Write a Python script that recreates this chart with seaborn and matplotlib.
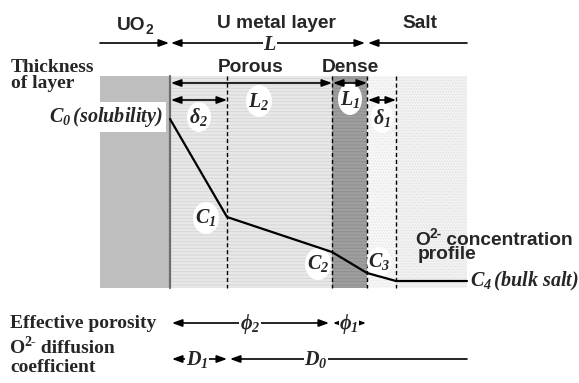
import matplotlib
matplotlib.use("Agg")
import matplotlib.pyplot as plt
from matplotlib.patches import Rectangle, Ellipse
import seaborn as sns
import pandas as pd

sns.set_theme(style="white")
plt.rcParams['font.family'] = ['Liberation Sans', 'DejaVu Sans']
plt.rcParams['mathtext.fontset'] = 'custom'
plt.rcParams['mathtext.it'] = 'Liberation Serif:bold:italic'
plt.rcParams['mathtext.rm'] = 'Liberation Serif:bold:italic'
plt.rcParams['mathtext.bf'] = 'Liberation Serif:bold'
plt.rcParams['hatch.linewidth'] = 0.6

# ---- data (pixel-space schematic) ----
layer_names = ['UO', 'U metal layer', 'Salt']
sublayer_names = ['Porous', 'Dense']
# x boundaries: UO2 start, metal/UO2 interface, delta2 edge, dense start, salt interface, delta1 edge, salt end
x_uo2, x_if, x_d2, x_dense, x_salt, x_d1, x_end = 100, 170, 227, 332, 367, 396, 467
profile_x = [170, 227, 332, 367, 396, 467]
profile_c = [119, 217, 252, 273, 281, 281]
conc_labels = ['$C_{\\mathit{1}}$', '$C_{\\mathit{2}}$', '$C_{\\mathit{3}}$']

fig = plt.figure(figsize=(5.79, 3.83), dpi=100)
ax = fig.add_axes([0, 0, 1, 1])

top, bot = 76, 288
# regions
ax.add_patch(Rectangle((x_uo2, top), x_if - x_uo2, bot - top, fc='#bebebe', ec='none', zorder=1))
ax.add_patch(Rectangle((x_if, top), x_dense - x_if, bot - top, fc='#e8e8e8', ec='#d4d4d4',
                       hatch='-----', lw=0, zorder=1))
ax.add_patch(Rectangle((x_dense, top), x_salt - x_dense, bot - top, fc='#9e9e9e', ec='#8e8e8e',
                       hatch='-----', lw=0, zorder=1))
ax.add_patch(Rectangle((x_salt, top), x_d1 - x_salt, bot - top, fc='#f7f7f7', ec='#e6e6e6',
                       hatch='......', lw=0, zorder=1))
ax.add_patch(Rectangle((x_d1, top), x_end - x_d1, bot - top, fc='#f2f2f2', ec='#e0e0e0',
                       hatch='......', lw=0, zorder=1))
ax.plot([x_if, x_if], [top, bot], color='#6e6e6e', lw=1.6, zorder=2)
for xv in [x_d2, x_dense, x_salt, x_d1]:
    ax.plot([xv, xv], [top, bot], color='black', lw=1.0, ls=(0, (3, 2)), zorder=2)

def arrow(x0, x1, y, style='<|-|>', lw=1.2):
    ax.annotate('', xy=(x1, y), xytext=(x0, y),
                arrowprops=dict(arrowstyle=style + ',head_length=0.6,head_width=0.22',
                                color='black', lw=lw, shrinkA=0, shrinkB=0,
                                mutation_scale=10), zorder=4)

SANS = 13.8
SERIF = 14
ITAL = 14.5
sans = dict(fontfamily='Liberation Sans', fontweight='bold')
serif = dict(fontfamily='Liberation Serif', fontweight='bold')

def with_script(x, y, base, script, rest='', kind='sub', fs=SANS, props=sans):
    # y is the baseline (pixel rows, downward)
    t = ax.text(x, y, base, ha='left', va='baseline', fontsize=fs, zorder=5, **props)
    dy = 4 if kind == 'sub' else -7
    s = ax.annotate(script, xy=(1, y + dy), xycoords=(t, 'data'), xytext=(-0.3, 0),
                    textcoords='offset points', ha='left', va='baseline',
                    fontsize=fs * 0.72, zorder=5, **props)
    if rest:
        ax.annotate(rest, xy=(1, y), xycoords=(s, 'data'), xytext=(0, 0),
                    textcoords='offset points', ha='left', va='baseline',
                    fontsize=fs, zorder=5, **props)
    return t

# top labels
with_script(117, 30, layer_names[0], '2')
ax.text(276, 24, layer_names[1], ha='center', va='center', fontsize=SANS, **sans)
ax.text(420, 24, layer_names[2], ha='center', va='center', fontsize=SANS, **sans)
arrow(x_uo2, x_if - 1, 43, '-|>')
arrow(x_if + 1, x_salt - 2, 43, '<|-|>')
arrow(x_end, x_salt + 1, 43, '-|>')
ax.text(270, 45, '$L$', ha='center', va='center', fontsize=ITAL, zorder=5,
        bbox=dict(fc='white', ec='none', pad=0.3))

ax.text(11, 72, 'Thickness', ha='left', va='baseline', fontsize=SERIF, **serif)
ax.text(11, 88, 'of layer', ha='left', va='baseline', fontsize=SERIF, **serif)
ax.text(251, 67, sublayer_names[0], ha='center', va='center', fontsize=SANS, **sans)
ax.text(350, 67, sublayer_names[1], ha='center', va='center', fontsize=SANS, **sans)

arrow(x_if + 1, x_dense, 83)
arrow(x_dense + 1, x_salt, 83)
arrow(x_if + 1, x_d2, 100)
arrow(x_salt + 1, x_d1, 100)

def ell_label(x, y, s, w=24, h=30, fs=ITAL):
    ax.add_patch(Ellipse((x, y), w, h, fc='white', ec='none', zorder=3))
    ax.text(x, y, s, ha='center', va='center', fontsize=fs, zorder=5)

ell_label(259, 101, '$L_{\\mathit{2}}$', w=26, h=32)
ell_label(350, 99, '$L_{\\mathit{1}}$', w=24, h=32)
ell_label(199, 117, '$\\delta_{\\mathit{2}}$', w=24, h=30)
ell_label(382, 118, '$\\delta_{\\mathit{1}}$', w=22, h=30)

# concentration profile
df = pd.DataFrame({'x': profile_x, 'c': profile_c})
sns.lineplot(data=df, x='x', y='c', color='black', lw=1.6, ax=ax, zorder=6, sort=False)
ax.set_xlim(0, 579)
ax.set_ylim(383, 0)
ax.axis('off')

ax.text(163, 117, '$C_{\\mathit{0}}\\,(solubility)$', ha='right', va='center', fontsize=ITAL,
        zorder=5, bbox=dict(fc='white', ec='none', pad=2.0))
ell_label(206, 218, conc_labels[0], w=26, h=32)
ell_label(318, 264, conc_labels[1], w=26, h=32)
ell_label(379, 262, conc_labels[2], w=24, h=30)
ax.text(470, 281, '$C_{\\mathit{4}}\\,(bulk\\ salt)$', ha='left', va='center', fontsize=ITAL, zorder=5)
with_script(415, 245, 'O', '2-', ' concentration', kind='sup')
ax.text(418, 259, 'profile', ha='left', va='baseline', fontsize=SANS, **sans)

# bottom rows
ax.text(10, 324, 'Effective porosity', ha='left', va='center', fontsize=SERIF, **serif)
arrow(x_if + 2, x_dense - 3, 323)
ax.text(250, 324, '$\\phi_{\\mathit{2}}$', ha='center', va='center', fontsize=ITAL, zorder=5,
        bbox=dict(fc='white', ec='none', pad=0.3))
arrow(x_dense + 1, x_salt - 1, 323)
ax.text(349, 324, '$\\phi_{\\mathit{1}}$', ha='center', va='center', fontsize=ITAL, zorder=5,
        bbox=dict(fc='white', ec='none', pad=0.3))

with_script(10, 353, 'O', '2-', ' diffusion', kind='sup', fs=SERIF, props=serif)
ax.text(10, 372, 'coefficient', ha='left', va='baseline', fontsize=SERIF, **serif)
arrow(x_if + 2, x_d2, 359)
ax.text(197, 359, '$D_{\\mathit{1}}$', ha='center', va='center', fontsize=ITAL, zorder=5,
        bbox=dict(fc='white', ec='none', pad=0.3))
arrow(x_end, x_d2 + 3, 359, '-|>')
ax.text(316, 359, '$D_{\\mathit{0}}$', ha='center', va='center', fontsize=ITAL, zorder=5,
        bbox=dict(fc='white', ec='none', pad=0.3))

fig.savefig('out.png', dpi=100)
